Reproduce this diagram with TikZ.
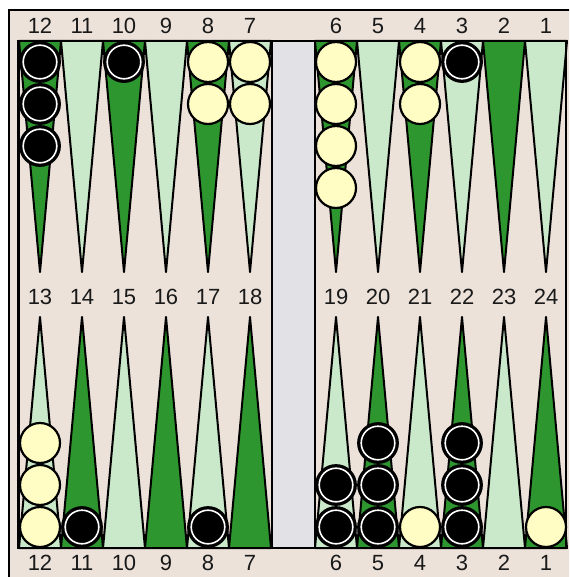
\documentclass[tikz,border=0pt]{standalone}
\usepackage{fontspec}
\setmainfont{Liberation Sans}
\usetikzlibrary{positioning}

\definecolor{boardbg}{RGB}{236,226,218}
\definecolor{bargrey}{RGB}{226,226,230}
\definecolor{ptdark}{RGB}{46,150,46}
\definecolor{ptlight}{RGB}{202,232,202}
\definecolor{chkcream}{RGB}{255,252,196}

\begin{document}
\begin{tikzpicture}[
    x=0.5pt, y=-0.5pt,
    every node/.style={font=\fontsize{11}{12}\selectfont},
    frame/.style={draw=black,line width=1.1pt},
    ptdk/.style={fill=ptdark,draw=black,line width=1pt,line join=round},
    ptlt/.style={fill=ptlight,draw=black,line width=1pt,line join=round},
    blkchk/.style={circle,draw=black,fill=black,line width=1.1pt,minimum size=19.8pt,inner sep=0pt,
                   path picture={\draw[white,line width=0.8pt]
                     (path picture bounding box.center) circle (8.4pt);}},
    whtchk/.style={circle,draw=black,fill=chkcream,line width=1.1pt,minimum size=20pt,inner sep=0pt},
    num/.style={inner sep=0pt,text=black!90}
]

\useasboundingbox (0,0) rectangle (569,577);
\clip (0,0) rectangle (569,577);
\fill[white] (0,0) rectangle (569,577);

% Board and frame
\fill[boardbg] (9,10) rectangle (600,600);
\draw[frame] (9,10) rectangle (600,600);
\fill[bargrey] (272,41) rectangle (315,548);

% Top points (1-12)
\foreach \x/\c in {40/ptdk,82/ptlt,124/ptdk,166/ptlt,208/ptdk,250/ptlt,
                   336/ptdk,378/ptlt,420/ptdk,462/ptlt,504/ptdk,546/ptlt}
    \draw[\c] (\x-21,41) -- (\x,272) -- (\x+21,41) -- cycle;

% Bottom points (13-24)
\foreach \x/\c in {40/ptlt,82/ptdk,124/ptlt,166/ptdk,208/ptlt,250/ptdk,
                   336/ptlt,378/ptdk,420/ptlt,462/ptdk,504/ptlt,546/ptdk}
    \draw[\c] (\x-21,548) -- (\x,317) -- (\x+21,548) -- cycle;

% Inner frame and bar edges
\draw[frame] (18.5,41) rectangle (566,548);
\draw[frame] (272,41) -- (272,548);
\draw[frame] (315,41) -- (315,548);

% Point numbers
\foreach \p/\x in {12/40,11/82,10/124,9/166,8/208,7/250,6/336,5/378,4/420,3/462,2/504,1/546}{
    \node[num] (top\p) at (\x,26) {\p};
    \node[num] (bot\p) at (\x,563) {\p};
}
\foreach \p/\x in {13/40,14/82,15/124,16/166,17/208,18/250,19/336,20/378,21/420,22/462,23/504,24/546}
    \node[num] (mid\p) at (\x,297) {\p};

% Checkers, top half
\foreach \y [count=\i] in {62,104,146} \node[blkchk] (b12\i) at (40,\y) {};
\node[blkchk] (b101) at (124,62) {};
\foreach \y [count=\i] in {62,104} \node[whtchk] (w8\i) at (208,\y) {};
\foreach \y [count=\i] in {62,104} \node[whtchk] (w7\i) at (250,\y) {};
\foreach \y [count=\i] in {62,104,146,188} \node[whtchk] (w6\i) at (336,\y) {};
\foreach \y [count=\i] in {62,104} \node[whtchk] (w4\i) at (420,\y) {};
\node[blkchk] (b31) at (462,62) {};

% Checkers, bottom half
\foreach \y [count=\i] in {527,485,443} \node[whtchk] (w13\i) at (40,\y) {};
\node[blkchk] (b141) at (82,527) {};
\node[blkchk] (b171) at (208,527) {};
\foreach \y [count=\i] in {527,485} \node[blkchk] (b19\i) at (336,\y) {};
\foreach \y [count=\i] in {527,485,443} \node[blkchk] (b20\i) at (378,\y) {};
\node[whtchk] (w211) at (420,527) {};
\foreach \y [count=\i] in {527,485,443} \node[blkchk] (b22\i) at (462,\y) {};
\node[whtchk] (w241) at (546,527) {};

\end{tikzpicture}
\end{document}
